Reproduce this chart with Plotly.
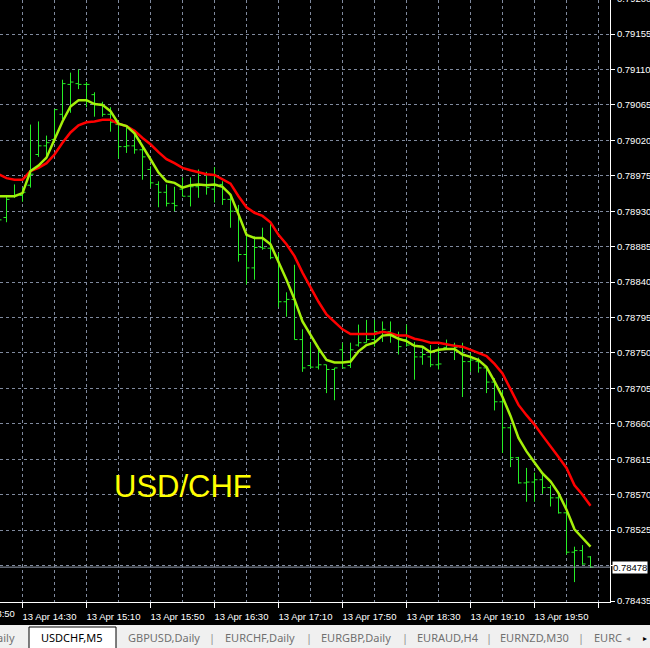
import pandas as pd
import plotly.graph_objects as go

# ---------------- data ----------------
bar_times = pd.date_range("2018-04-13 14:15", periods=75, freq="5min")

opens = [0.78932, 0.78922, 0.78949, 0.78950, 0.78963, 0.79002, 0.79013, 0.79021, 0.79053, 0.79091,
         0.79092, 0.79091, 0.79078, 0.79066, 0.79053, 0.79040, 0.79012, 0.79013, 0.79008, 0.78983,
         0.78964, 0.78954, 0.78940, 0.78958, 0.78949, 0.78961, 0.78963, 0.78958, 0.78964, 0.78945,
         0.78930, 0.78875, 0.78858, 0.78884, 0.78883, 0.78871, 0.78815, 0.78818, 0.78767, 0.78734,
         0.78732, 0.78735, 0.78729, 0.78754, 0.78734, 0.78760, 0.78763, 0.78767, 0.78777, 0.78777,
         0.78773, 0.78767, 0.78760, 0.78745, 0.78745, 0.78735, 0.78757, 0.78760, 0.78757, 0.78739,
         0.78739, 0.78731, 0.78713, 0.78688, 0.78655, 0.78617, 0.78585, 0.78586, 0.78589, 0.78579,
         0.78566, 0.78547, 0.78497, 0.78499, 0.78491]

highs = [0.78938, 0.78949, 0.78964, 0.78960, 0.79040, 0.79044, 0.79026, 0.79059, 0.79097, 0.79106,
         0.79110, 0.79094, 0.79081, 0.79069, 0.79062, 0.79043, 0.79038, 0.79027, 0.79012, 0.78987,
         0.78968, 0.78964, 0.78961, 0.78973, 0.78973, 0.78983, 0.78980, 0.78986, 0.78968, 0.78949,
         0.78938, 0.78903, 0.78898, 0.78909, 0.78916, 0.78877, 0.78827, 0.78862, 0.78780, 0.78763,
         0.78758, 0.78735, 0.78731, 0.78763, 0.78763, 0.78786, 0.78792, 0.78792, 0.78790, 0.78790,
         0.78777, 0.78786, 0.78764, 0.78758, 0.78760, 0.78758, 0.78767, 0.78763, 0.78763, 0.78750,
         0.78744, 0.78732, 0.78718, 0.78703, 0.78659, 0.78618, 0.78604, 0.78598, 0.78595, 0.78582,
         0.78574, 0.78563, 0.78504, 0.78506, 0.78492]

lows = [0.78917, 0.78916, 0.78947, 0.78942, 0.78960, 0.78999, 0.78996, 0.79017, 0.79047, 0.79055,
        0.79085, 0.79062, 0.79050, 0.79050, 0.79031, 0.78997, 0.79004, 0.79003, 0.78970, 0.78960,
        0.78935, 0.78936, 0.78930, 0.78949, 0.78936, 0.78947, 0.78951, 0.78941, 0.78938, 0.78909,
        0.78866, 0.78837, 0.78843, 0.78881, 0.78869, 0.78808, 0.78796, 0.78767, 0.78726, 0.78731,
        0.78729, 0.78699, 0.78690, 0.78731, 0.78731, 0.78758, 0.78763, 0.78758, 0.78764, 0.78763,
        0.78748, 0.78758, 0.78716, 0.78735, 0.78732, 0.78729, 0.78754, 0.78741, 0.78694, 0.78726,
        0.78725, 0.78699, 0.78677, 0.78623, 0.78605, 0.78584, 0.78561, 0.78561, 0.78571, 0.78555,
        0.78546, 0.78494, 0.78459, 0.78481, 0.78477]

closes = [0.78919, 0.78945, 0.78950, 0.78954, 0.78977, 0.79013, 0.79017, 0.79059, 0.79092, 0.79094,
          0.79091, 0.79091, 0.79066, 0.79053, 0.79043, 0.79012, 0.79013, 0.79008, 0.78999, 0.78966,
          0.78954, 0.78940, 0.78937, 0.78949, 0.78961, 0.78963, 0.78960, 0.78964, 0.78945, 0.78930,
          0.78875, 0.78858, 0.78884, 0.78883, 0.78871, 0.78815, 0.78818, 0.78767, 0.78731, 0.78732,
          0.78735, 0.78729, 0.78731, 0.78731, 0.78754, 0.78763, 0.78767, 0.78777, 0.78780, 0.78773,
          0.78758, 0.78760, 0.78745, 0.78748, 0.78735, 0.78736, 0.78760, 0.78757, 0.78739, 0.78741,
          0.78731, 0.78713, 0.78688, 0.78655, 0.78617, 0.78585, 0.78586, 0.78589, 0.78579, 0.78566,
          0.78547, 0.78497, 0.78499, 0.78482, 0.78478]

fast_ma = [0.78949, 0.78949, 0.78949, 0.78953, 0.78981, 0.78988, 0.78998, 0.79021, 0.79044, 0.79063,
           0.79071, 0.79071, 0.79066, 0.79065, 0.79057, 0.79041, 0.79038, 0.79029, 0.79013, 0.78996,
           0.78979, 0.78968, 0.78966, 0.78960, 0.78963, 0.78964, 0.78963, 0.78964, 0.78961, 0.78951,
           0.78926, 0.78900, 0.78896, 0.78896, 0.78888, 0.78866, 0.78843, 0.78818, 0.78790, 0.78773,
           0.78756, 0.78741, 0.78738, 0.78738, 0.78739, 0.78752, 0.78760, 0.78763, 0.78772, 0.78773,
           0.78768, 0.78765, 0.78759, 0.78758, 0.78751, 0.78754, 0.78755, 0.78755, 0.78748, 0.78745,
           0.78741, 0.78732, 0.78714, 0.78694, 0.78670, 0.78642, 0.78625, 0.78611, 0.78597, 0.78587,
           0.78572, 0.78551, 0.78526, 0.78515, 0.78504]

slow_ma = [0.78977, 0.78972, 0.78970, 0.78970, 0.78981, 0.78985, 0.78991, 0.79002, 0.79017, 0.79030,
           0.79039, 0.79043, 0.79044, 0.79046, 0.79046, 0.79041, 0.79038, 0.79032, 0.79023, 0.79015,
           0.79005, 0.78996, 0.78991, 0.78985, 0.78982, 0.78979, 0.78977, 0.78976, 0.78971, 0.78965,
           0.78949, 0.78935, 0.78928, 0.78924, 0.78916, 0.78900, 0.78888, 0.78873, 0.78852, 0.78833,
           0.78815, 0.78799, 0.78790, 0.78780, 0.78774, 0.78774, 0.78774, 0.78774, 0.78777, 0.78775,
           0.78772, 0.78772, 0.78768, 0.78766, 0.78763, 0.78763, 0.78761, 0.78759, 0.78758, 0.78754,
           0.78751, 0.78746, 0.78736, 0.78724, 0.78704, 0.78684, 0.78671, 0.78659, 0.78645, 0.78632,
           0.78618, 0.78604, 0.78582, 0.78570, 0.78556]

price_ticks = [0.78435, 0.78480, 0.78525, 0.78570, 0.78615, 0.78660, 0.78705, 0.78750, 0.78795,
               0.78840, 0.78885, 0.78930, 0.78975, 0.79020, 0.79065, 0.79110, 0.79155]
price_tick_text = ["0.78435", "", "0.78525", "0.78570", "0.78615", "0.78660", "0.78705", "0.78750",
                   "0.78795", "0.78840", "0.78885", "0.78930", "0.78975", "0.79020", "0.79065",
                   "0.79110", "0.79155"]
top_cut_label = "0.79200"
left_cut_label = "13 Apr 13:50"
current_price = 0.78478
current_price_text = "0.78478"
symbol_title = "USD/CHF"

tab_labels = ["Daily", "USDCHF,M5", "GBPUSD,Daily", "|", "EURCHF,Daily", "|", "EURGBP,Daily", "|",
              "EURAUD,H4", "|", "EURNZD,M30", "|", "EURC", "\u25C2", "\u25B8"]

# ---------------- layout constants ----------------
W, H = 650, 648
PL, PR, PT, PB = 0, 40, 0, 46
PW, PH = W - PL - PR, H - PT - PB   # 610 x 602

def px_x(p):
    return (p - PL) / PW

def px_y(p):
    return (PT + PH - p) / PH

GRID = "rgb(128,138,158)"
BAR_GREEN = "#26ee26"
FAST_COL = "#a4f00a"
SLOW_COL = "#ff0000"
AX_FONT = dict(family="Liberation Sans, Arial, sans-serif", size=9.5, color="white")

fig = go.Figure()
fig.add_trace(go.Ohlc(
    x=bar_times, open=opens, high=highs, low=lows, close=closes,
    increasing=dict(line=dict(color=BAR_GREEN, width=1)),
    decreasing=dict(line=dict(color=BAR_GREEN, width=1)),
    tickwidth=0.375, showlegend=False, hoverinfo="skip"))
fig.add_trace(go.Scatter(x=bar_times, y=slow_ma, mode="lines",
                         line=dict(color=SLOW_COL, width=2.5), showlegend=False, hoverinfo="skip"))
fig.add_trace(go.Scatter(x=bar_times, y=fast_ma, mode="lines",
                         line=dict(color=FAST_COL, width=2.5), showlegend=False, hoverinfo="skip"))

# 8 px per 5-minute bar; bar centres placed on pixel centres
x_start = pd.Timestamp("2018-04-13 14:15:56.25")
x_end = pd.Timestamp("2018-04-13 20:37:11.25")

fig.update_layout(
    width=W, height=H,
    margin=dict(l=PL, r=PR, t=PT, b=PB, pad=0),
    paper_bgcolor="black", plot_bgcolor="black",
    showlegend=False,
    xaxis=dict(
        type="date", range=[x_start, x_end],
        tick0="2018-04-13 14:30", dtick=2400000,
        tickformat="%d %b %H:%M",
        ticks="outside", ticklen=5, tickcolor="white", tickwidth=1,
        showline=True, linecolor="white", linewidth=1,
        showgrid=True, gridcolor=GRID, gridwidth=1, griddash="3px,3px",
        minor=dict(tick0="2018-04-13 14:30", dtick=1200000, showgrid=True,
                   gridcolor=GRID, gridwidth=1, griddash="3px,3px", ticks=""),
        rangeslider=dict(visible=False),
        tickfont=AX_FONT, ticklabelshift=27, ticklabelstandoff=1,
        zeroline=False, fixedrange=True,
    ),
    yaxis=dict(
        side="right", range=[0.7843373, 0.791982],
        tickvals=price_ticks, ticktext=price_tick_text,
        ticks="outside", ticklen=4, tickcolor="white", tickwidth=1,
        showline=True, linecolor="white", linewidth=1,
        showgrid=True, gridcolor=GRID, gridwidth=1, griddash="3px,3px",
        tickfont=AX_FONT, zeroline=False, fixedrange=True,
    ),
)

shapes = []
# bid line
shapes.append(dict(type="line", xref="paper", yref="y", x0=0, x1=1,
                   y0=current_price, y1=current_price,
                   line=dict(color="rgb(150,160,178)", width=1)))
# tab bar background
shapes.append(dict(type="rect", xref="paper", yref="paper",
                   x0=px_x(0), x1=px_x(W + 2), y0=px_y(625), y1=px_y(H + 4),
                   fillcolor="#f0f0f0", line=dict(width=0), layer="above"))
# selected tab
shapes.append(dict(type="rect", xref="paper", yref="paper",
                   x0=px_x(29), x1=px_x(116), y0=px_y(627), y1=px_y(H + 4),
                   fillcolor="white", line=dict(color="black", width=1), layer="above"))
fig.update_layout(shapes=shapes)

ann = []
ann.append(dict(text=symbol_title, xref="paper", yref="paper", x=px_x(182.5), y=px_y(486),
                xanchor="center", yanchor="middle", showarrow=False,
                font=dict(family="Liberation Sans, Arial, sans-serif", size=31, color="#ffff00")))
ann.append(dict(text=current_price_text, xref="paper", yref="y", x=px_x(612), y=current_price,
                xanchor="left", yanchor="middle", showarrow=False, bgcolor="white",
                borderpad=0, font=dict(family="Liberation Sans, Arial, sans-serif", size=9.5,
                                       color="black")))
ann.append(dict(text=top_cut_label, xref="paper", yref="paper", x=px_x(615), y=px_y(-1.5),
                xanchor="left", yanchor="middle", showarrow=False, font=AX_FONT))
ann.append(dict(text=left_cut_label, xref="paper", yref="paper", x=px_x(-41), y=px_y(613),
                xanchor="left", yanchor="middle", showarrow=False, font=AX_FONT))

tab_x = [17, 71.5, 163.5, 212, 259.5, 309, 356, 405, 447.5, 489, 534, 581, 592, 628, 645]
tab_anchor = ["right", "center", "center", "center", "center", "center", "center", "center",
              "center", "center", "center", "center", "left", "center", "center"]
tab_color = ["#707070", "black", "#707070", "#909090", "#707070", "#909090", "#707070", "#909090",
             "#707070", "#909090", "#707070", "#909090", "#707070", "#909090", "black"]
tab_size = [11] * 13 + [8, 8]
for lbl, tx, anc, col, sz in zip(tab_labels, tab_x, tab_anchor, tab_color, tab_size):
    ann.append(dict(text=lbl, xref="paper", yref="paper", x=px_x(tx), y=px_y(637),
                    xanchor=anc, yanchor="middle", showarrow=False,
                    font=dict(family="Noto Sans, DejaVu Sans, sans-serif", size=sz, color=col)))
fig.update_layout(annotations=ann)

fig.write_html(
    "out.html",
    config={"displayModeBar": False},
    post_script="document.body.style.margin='0';document.body.style.padding='0';"
                "document.body.style.overflow='hidden';document.body.style.background='black';",
)
